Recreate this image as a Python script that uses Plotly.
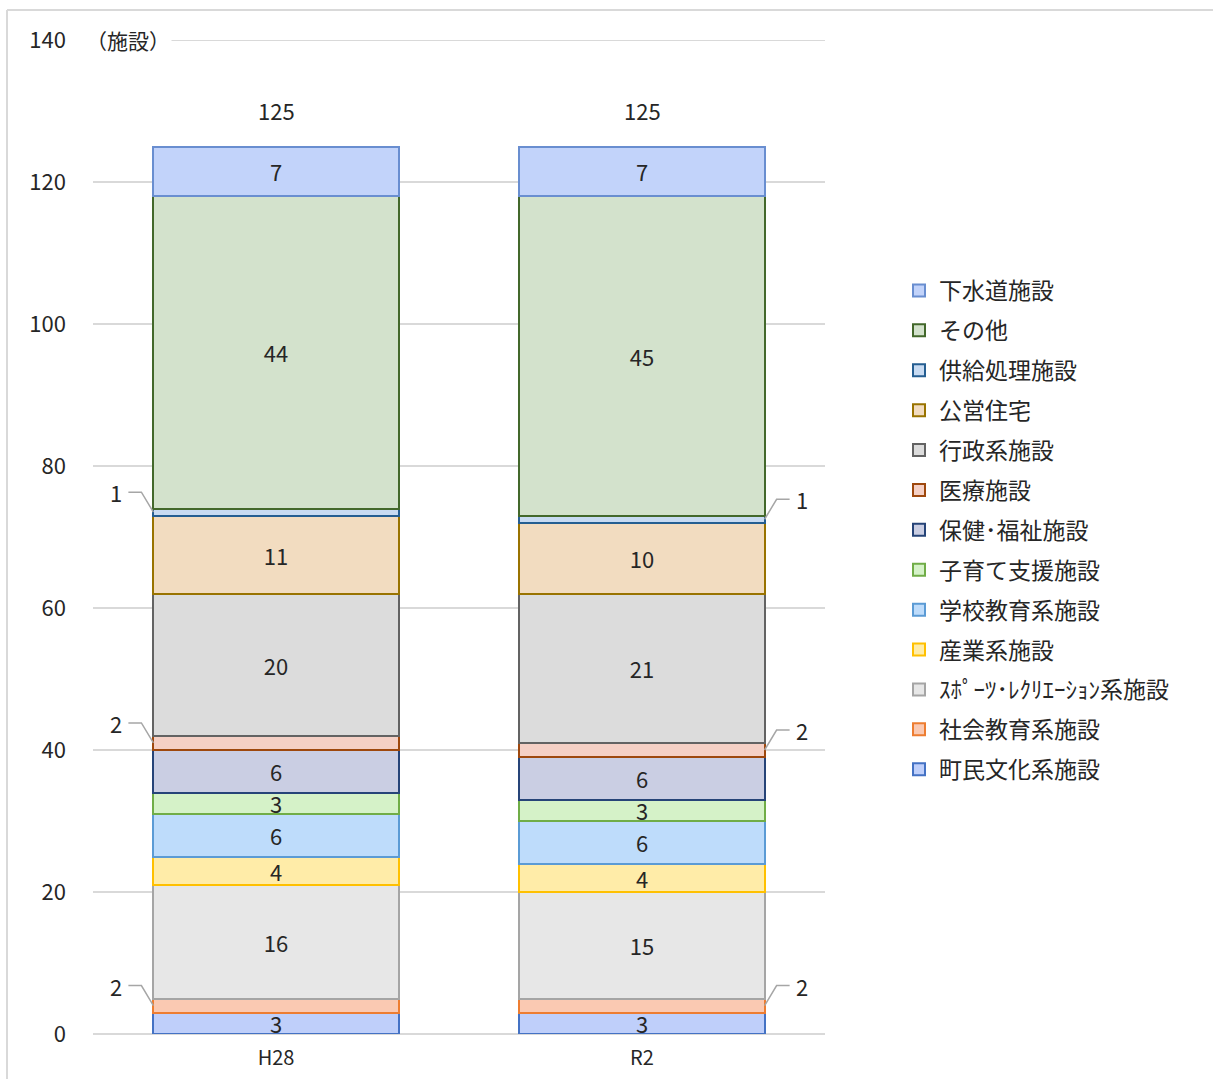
import plotly.graph_objects as go
import numpy as np

# 年度
years = ["H28", "R2"]

# 施設分類（積み上げ順：下から上）
categories = [
    "町民文化系施設", "社会教育系施設", "ｽﾎﾟｰﾂ･ﾚｸﾘｴｰｼｮﾝ系施設", "産業系施設",
    "学校教育系施設", "子育て支援施設", "保健･福祉施設", "医療施設", "行政系施設",
    "公営住宅", "供給処理施設", "その他", "下水道施設",
]

# 施設数
h28_counts = [3, 2, 16, 4, 6, 3, 6, 2, 20, 11, 1, 44, 7]
r2_counts = [3, 2, 15, 4, 6, 3, 6, 2, 21, 10, 1, 45, 7]

# y軸目盛
y_ticks = [0, 20, 40, 60, 80, 100, 120, 140]

fill_colors = [
    "#bfcffa", "#fac9b2", "#e7e7e7", "#ffeca8", "#bedcfb", "#d5f2c8", "#cacee3",
    "#f5d0c5", "#dcdcdc", "#f2dcc0", "#c8dbf2", "#d3e2cc", "#c2d3fa",
]
line_colors = [
    "#4472c4", "#ed7d31", "#a5a5a5", "#ffc000", "#5b9bd5", "#70ad47", "#264478",
    "#9e480e", "#636363", "#997300", "#255e91", "#43682b", "#698ed0",
]

FONT = "Noto Sans CJK JP"
TEXT = "#262626"
GRID = "#d9d9d9"
BAR_W = 0.67
SMALL = 2  # 値がこれ以下の区分は棒の外に引き出し線付きで表示

x_pos = [0, 1]
series = np.array([h28_counts, r2_counts])
n = len(categories)

fig = go.Figure()
for i, name in enumerate(categories):
    vals = series[:, i]
    labels = ["" if v <= SMALL else str(v) for v in vals]
    fig.add_trace(go.Bar(
        x=x_pos, y=vals, name=name, width=BAR_W,
        marker=dict(color=fill_colors[i], line=dict(color=line_colors[i], width=2)),
        text=labels, textposition="inside", insidetextanchor="middle",
        constraintext="none", textangle=0,
        textfont=dict(family=FONT, size=22, color=TEXT),
        legendgroup=name, legendrank=n - i, cliponaxis=False,
    ))

annotations = []
shapes = []

# 合計値
totals = series.sum(axis=1)
for xp, t in zip(x_pos, totals):
    annotations.append(dict(
        x=xp, y=t, text=str(t), showarrow=False, yshift=37,
        font=dict(family=FONT, size=22, color=TEXT),
    ))

# 小さい区分の引き出しラベル（H28は左側、R2は右側）
sides = [-1, 1]
for b, xp in enumerate(x_pos):
    s = sides[b]
    cum = np.cumsum(series[b])
    for i, v in enumerate(series[b]):
        if v > SMALL:
            continue
        yc = cum[i] - v / 2
        xe = xp + s * BAR_W / 2
        dy = 20
        shapes.append(dict(
            type="path", xref="x", yref="y",
            xsizemode="pixel", ysizemode="pixel", xanchor=xe, yanchor=yc,
            path=f"M 0,0 L {s*12},{dy} L {s*25},{dy}",
            line=dict(color="#a6a6a6", width=1.5),
        ))
        annotations.append(dict(
            x=xe, y=yc, text=str(v), showarrow=False,
            xshift=s * 37, yshift=dy,
            font=dict(family=FONT, size=22, color=TEXT),
        ))

# 最上段の目盛線
shapes.append(dict(type="line", xref="paper", yref="y", x0=0, x1=1,
                   y0=y_ticks[-1], y1=y_ticks[-1], layer="below",
                   line=dict(color=GRID, width=2)))

# 単位
annotations.append(dict(
    xref="paper", yref="y", x=-0.012, y=y_ticks[-1], text="（施設）", showarrow=False,
    xanchor="left", font=dict(family=FONT, size=21, color=TEXT), bgcolor="white",
))

# 外枠（上辺・左辺）
L, R, T, B = 93, 825, 40, 1034
def px_x(p):
    return (p - L) / (R - L)
def px_y(p):
    return (B - p) / (B - T)
shapes.append(dict(type="line", xref="paper", yref="paper",
                   x0=px_x(7), x1=px_x(1213), y0=px_y(10), y1=px_y(10),
                   line=dict(color=GRID, width=2)))
shapes.append(dict(type="line", xref="paper", yref="paper",
                   x0=px_x(7), x1=px_x(7), y0=px_y(10), y1=px_y(1090),
                   line=dict(color=GRID, width=2)))

fig.update_layout(
    barmode="stack",
    width=1213, height=1079,
    margin=dict(l=L, r=1213 - R, t=T, b=1079 - B, autoexpand=False),
    paper_bgcolor="white", plot_bgcolor="white",
    font=dict(family=FONT, size=20, color=TEXT),
    showlegend=True,
    legend=dict(
        traceorder="grouped", tracegroupgap=7,
        x=px_x(899), xanchor="left", y=px_y(530), yanchor="middle",
        font=dict(family=FONT, size=23, color=TEXT),
        itemclick=False,
    ),
    xaxis=dict(
        range=[-0.5, 1.5], tickvals=x_pos, ticktext=years,
        showgrid=False, zeroline=False, showline=False, ticks="",
        ticklabelstandoff=10,
        tickfont=dict(family=FONT, size=20, color=TEXT),
    ),
    yaxis=dict(
        range=[0, 140], tickvals=y_ticks, showgrid=True,
        gridcolor=GRID, gridwidth=2, zeroline=True, zerolinecolor=GRID,
        zerolinewidth=2, showline=False, ticks="", ticklabelstandoff=26,
        tickfont=dict(family=FONT, size=22, color=TEXT),
    ),
    annotations=annotations,
    shapes=shapes,
)

fig.write_html("out.html")
